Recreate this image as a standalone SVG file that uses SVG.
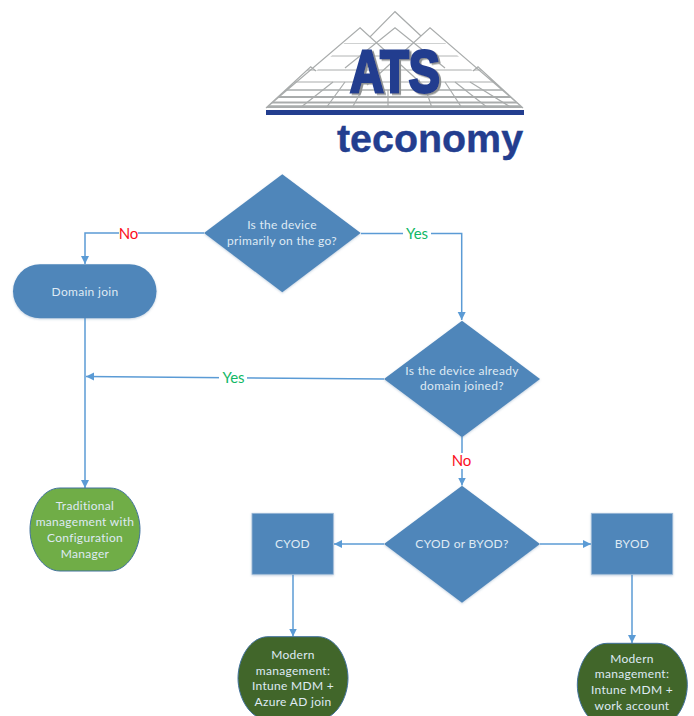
<svg xmlns="http://www.w3.org/2000/svg" width="694" height="716" viewBox="0 0 694 716">
<style>
.n{fill:#4f86ba;filter:url(#s)}
.b{stroke:#9db9d8;stroke-width:.8}
.t{font-family:"Lato","Open Sans",sans-serif;font-size:12px;fill:#dfeaf4;text-anchor:middle;letter-spacing:.3px}
.c{fill:none;stroke:#5b9bd5;stroke-width:1.5}
.a{marker-end:url(#ah)}
.lab{font-family:"Lato","Open Sans",sans-serif;font-size:15px;text-anchor:middle}
.g{fill:none;stroke:#a9acac;stroke-width:1.2}
.gh{stroke:#a9acac;fill:none}
</style>
<defs>
<marker id="ah" markerUnits="userSpaceOnUse" markerWidth="9" markerHeight="9" refX="8" refY="4" orient="auto"><path d="M0 0L8 4L0 8Z" fill="#5b9bd5"/></marker>
<filter id="s" x="-10%" y="-10%" width="120%" height="120%"><feDropShadow dx="0" dy="1" stdDeviation="1" flood-color="#5b7fa8" flood-opacity=".35"/></filter>
<filter id="ls" x="-5%" y="-5%" width="115%" height="115%"><feDropShadow dx="2" dy="1.500" stdDeviation=".5" flood-color="#8f9292" flood-opacity="1"/></filter>
<clipPath id="mt"><path d="M266 108L310.7 66.7L316 71L360 27.700L370 37L395 11.700L421 36L430 27.700L473 71L478 66.700L523 108Z"/></clipPath>
<path id="blob" d="M30 0H80C98 0 110 22 110 41.500C110 61 98 83 80 83H30C12 83 0 61 0 41.500C0 22 12 0 30 0Z"/>
</defs>
<rect width="694" height="716" fill="#fff"/>
<g id="logo">
<path class="g" d="M266 108L310.7 66.700L316 71M266 108L360 27.700L423 85M360 27.700L370 37L395 11.700L421 36M523 108L430 27.700L367 85M523 108L478 66.700L473 71M345 68L395 27.700L445 68"/>
<g clip-path="url(#mt)">
<g class="gh">
<path stroke-width=".8" d="M340 43.500H450" opacity=".7"/>
<path stroke-width=".9" d="M320 56H470"/>
<path stroke-width="1" d="M300 70H490"/>
<path stroke-width="1.200" d="M285 82H505"/>
<path stroke-width="1.500" d="M278 90H512"/>
<path stroke-width="1.800" d="M272 97H518"/>
<path stroke-width="2" d="M268 102.500H521"/>
<path stroke-width="3" d="M266 106.800H523"/>
<path stroke-width="1.200" d="M300 108L333 82M326 108L345 82M352 108L362 90M388 108V90M432 108L426 90M462 108L445 82M488 108L455 82M512 108L470 82"/>
</g>
</g>
<text x="350" y="92" font-family="'Liberation Sans',Arial,sans-serif" font-weight="700" font-size="60" textLength="90" lengthAdjust="spacingAndGlyphs" fill="#233e8f" stroke="#233e8f" stroke-width="3" filter="url(#ls)">ATS</text>
<rect x="266" y="110" width="258" height="5" fill="#233e8f"/>
<text x="337" y="151.500" font-family="'Liberation Sans',Arial,sans-serif" font-weight="700" font-size="39.400" fill="#233e8f" stroke="#233e8f" stroke-width=".4">teconomy</text>
</g>
<g id="connectors">
<path class="c a" d="M204 233H85V264"/>
<path class="c a" d="M361 233.500H461.700V320"/>
<path class="c a" d="M384 379L86 376.500"/>
<path class="c a" d="M85 318V488"/>
<path class="c a" d="M462 437V485.500"/>
<path class="c a" d="M384 544H334"/>
<path class="c a" d="M540 544H591"/>
<path class="c a" d="M293 574.500V636.500"/>
<path class="c a" d="M632 574.500V643"/>
<rect x="119" y="226" width="19" height="15" fill="#fff"/>
<rect x="403" y="226" width="28" height="15" fill="#fff"/>
<rect x="219" y="370" width="28" height="15" fill="#fff"/>
<rect x="451" y="453" width="21" height="16" fill="#fff"/>
<text class="lab" x="128.500" y="239" fill="#fb0d1b">No</text>
<text class="lab" x="417" y="239" fill="#11b866">Yes</text>
<text class="lab" x="233.500" y="383" fill="#11b866">Yes</text>
<text class="lab" x="461.500" y="466" fill="#fb0d1b">No</text>
</g>
<g id="d1"><path class="n" d="M282.300 174.300L360.700 233L282.300 292.300L204 233Z"/><text class="t" x="282" y="229">Is the device</text><text class="t" x="282" y="245">primarily on the go?</text></g>
<g id="domain"><rect class="n" x="13" y="264.300" width="143.500" height="54" rx="27"/><text class="t" x="85" y="295.500">Domain join</text></g>
<g id="d2"><path class="n" d="M462 320.700L540 379L462 437.300L384 379Z"/><text class="t" x="462" y="375">Is the device already</text><text class="t" x="462" y="390">domain joined?</text></g>
<g id="d3"><path class="n" d="M462 485.700L540 544L462 602.700L384 544Z"/><text class="t" x="462" y="548">CYOD or BYOD?</text></g>
<g id="cyod"><rect class="n b" x="252" y="513.300" width="81.300" height="61"/><text class="t" x="292.500" y="548">CYOD</text></g>
<g id="byod"><rect class="n b" x="591.300" y="513.300" width="81.400" height="61"/><text class="t" x="632" y="548">BYOD</text></g>
<g id="trad"><use href="#blob" x="30" y="488" fill="#70ad47" stroke="#41719c"/><text class="t" x="85" y="510">Traditional</text><text class="t" x="85" y="526">management with</text><text class="t" x="85" y="541.500">Configuration</text><text class="t" x="85" y="557.500">Manager</text></g>
<g id="modern1"><use href="#blob" x="238" y="636.700" fill="#41662a" stroke="#41719c"/><text class="t" x="293" y="659">Modern</text><text class="t" x="293" y="674.500">management:</text><text class="t" x="293" y="690">Intune MDM +</text><text class="t" x="293" y="706">Azure AD join</text></g>
<g id="modern2"><use href="#blob" x="577.300" y="643.300" fill="#41662a" stroke="#41719c"/><text class="t" x="632" y="662.500">Modern</text><text class="t" x="632" y="678">management:</text><text class="t" x="632" y="693.500">Intune MDM +</text><text class="t" x="632" y="709.500">work account</text></g>
</svg>
